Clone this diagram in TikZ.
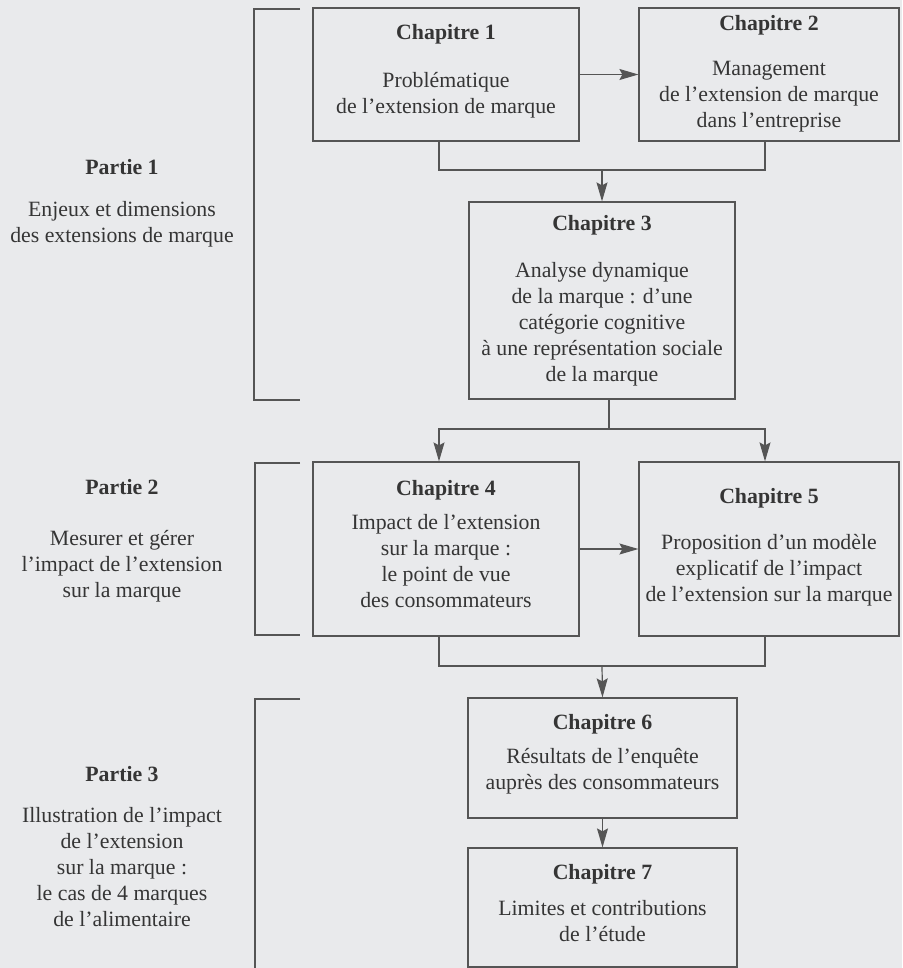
\documentclass[tikz,border=0pt]{standalone}
\usepackage{fontspec}
\setmainfont{Liberation Serif}
\usetikzlibrary{arrows.meta}
\definecolor{bg}{HTML}{E9EAEC}
\definecolor{ln}{HTML}{555555}
\definecolor{tx}{HTML}{353535}
\begin{document}
\begin{tikzpicture}[x=1pt,y=-1pt,
  box/.style={draw=ln,line width=1.2pt,inner sep=0pt,rectangle},
  conn/.style={draw=ln,line width=1.2pt},
  arr/.style={conn,-{Stealth[length=19pt,width=11pt,inset=3pt]}},
  ttl/.style={font=\fontsize{21.8}{26}\selectfont\bfseries,text=tx,anchor=base,inner sep=0pt},
  bdy/.style={font=\fontsize{21.8}{26}\selectfont,text=tx,anchor=south,align=center,text depth=0pt,inner sep=0pt}]
\fill[bg] (0,0) rectangle (902,968);
\useasboundingbox (0,0) rectangle (902,968);
% boxes
\node[box,minimum width=266pt,minimum height=133pt] (c1) at (446,74.5) {};
\node[box,minimum width=260pt,minimum height=133pt] (c2) at (769,74.5) {};
\node[box,minimum width=266pt,minimum height=197pt] (c3) at (602,300.5) {};
\node[box,minimum width=266pt,minimum height=174pt] (c4) at (446,549) {};
\node[box,minimum width=260pt,minimum height=174pt] (c5) at (769,549) {};
\node[box,minimum width=269pt,minimum height=120pt] (c6) at (602.5,758) {};
\node[box,minimum width=269pt,minimum height=119pt] (c7) at (602.5,907.5) {};
% box texts
\node[ttl] (t1) at (446,40) {Chapitre 1};
\node[bdy] (b1) at (446,114) {Problématique\\de l’extension de marque};
\node[ttl] (t2) at (769,31) {Chapitre 2};
\node[bdy] (b2) at (769,128) {Management\\de l’extension de marque\\dans l’entreprise};
\node[ttl] (t3) at (602,231) {Chapitre 3};
\node[bdy] (b3) at (602,382) {Analyse dynamique\\de la marque : d’une\\catégorie cognitive\\à une représentation sociale\\de la marque};
\node[ttl] (t4) at (446,495) {Chapitre 4};
\node[bdy] (b4) at (446,608) {Impact de l’extension\\sur la marque :\\le point de vue\\des consommateurs};
\node[ttl] (t5) at (769,503) {Chapitre 5};
\node[bdy] (b5) at (769,602) {Proposition d’un modèle\\explicatif de l’impact\\de l’extension sur la marque};
\node[ttl] (t6) at (602.5,729) {Chapitre 6};
\node[bdy] (b6) at (602.5,790) {Résultats de l’enquête\\auprès des consommateurs};
\node[ttl] (t7) at (602.5,879) {Chapitre 7};
\node[bdy] (b7) at (602.5,942) {Limites et contributions\\de l’étude};
% left texts
\node[ttl] (p1) at (122,175) {Partie 1};
\node[bdy] (q1) at (122,243) {Enjeux et dimensions\\des extensions de marque};
\node[ttl] (p2) at (122,494) {Partie 2};
\node[bdy] (q2) at (122,598) {Mesurer et gérer\\l’impact de l’extension\\sur la marque};
\node[ttl] (p3) at (122,781) {Partie 3};
\node[bdy] (q3) at (122,927) {Illustration de l’impact\\de l’extension\\sur la marque :\\le cas de 4 marques\\de l’alimentaire};
% brackets
\draw[conn] (300,9) -- (254,9) -- (254,400) -- (300,400);
\draw[conn] (300,463) -- (255,463) -- (255,635) -- (300,635);
\draw[conn] (300,699) -- (255,699) -- (255,968);
% helper coordinates
\coordinate (xL) at (439,0);
\coordinate (xR) at (765,0);
\coordinate (j1) at (602,170);
\coordinate (j2) at (609,429);
\coordinate (j3) at (602,666);
% connectors
\draw[arr] (c1) -- (c2);
\draw[conn] (xL |- c1.south) |- (j1) -| (xR |- c2.south);
\draw[arr] (j1) -- (c3.north);
\draw[conn] (j2 |- c3.south) -- (j2);
\draw[arr] (j2) -| (xL |- c4.north);
\draw[arr] (j2) -| (xR |- c5.north);
\draw[arr] (c4) -- (c5);
\draw[conn] (xL |- c4.south) |- (j3) -| (xR |- c5.south);
\draw[arr] (j3) -- (c6.north);
\draw[arr] (c6) -- (c7);
\end{tikzpicture}
\end{document}
